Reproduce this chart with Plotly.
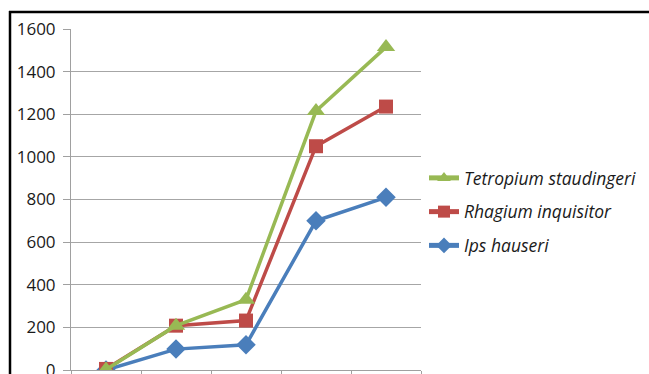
import plotly.graph_objects as go

categories = ["1", "2", "3", "4", "5"]
ips_hauseri = [0, 98, 118, 700, 810]
rhagium_inquisitor = [5, 208, 232, 1050, 1236]
tetropium_staudingeri = [2, 208, 330, 1215, 1515]
y_ticks = [0, 200, 400, 600, 800, 1000, 1200, 1400, 1600]

W, H = 649, 374
L, R, T, B = 71, 228, 29, 4
pw = W - L - R
ph = H - T - B

fig = go.Figure()
fig.add_trace(go.Scatter(x=categories, y=ips_hauseri, name="Ips hauseri", mode="lines+markers",
                         line=dict(color="#4A7EBB", width=3.5),
                         marker=dict(symbol="diamond", size=15, color="#4A7EBB"),
                         legendgroup="c", legendrank=3))
fig.add_trace(go.Scatter(x=categories, y=rhagium_inquisitor, name="Rhagium inquisitor", mode="lines+markers",
                         line=dict(color="#BE4B48", width=3.5),
                         marker=dict(symbol="square", size=14, color="#BE4B48"),
                         legendgroup="b", legendrank=2))
fig.add_trace(go.Scatter(x=categories, y=tetropium_staudingeri, name="Tetropium staudingeri", mode="lines+markers",
                         line=dict(color="#98B954", width=3.5),
                         marker=dict(symbol="triangle-up", size=16, color="#98B954"),
                         legendgroup="a", legendrank=1))

def px_x(p):
    return (p - L) / pw

def px_y(p):
    return (H - B - p) / ph

fig.update_layout(
    width=W, height=H,
    margin=dict(l=L, r=R, t=T, b=B, autoexpand=False),
    paper_bgcolor="white", plot_bgcolor="white",
    font=dict(family="Open Sans", size=17, color="#1a1a1a"),
    showlegend=True,
    legend=dict(x=px_x(424), y=px_y(160), xanchor="left", yanchor="top",
                traceorder="grouped", tracegroupgap=8, itemsizing="constant",
                font=dict(family="Open Sans", size=17.5, style="italic", color="#1a1a1a"),
                bgcolor="rgba(0,0,0,0)"),
    xaxis=dict(type="category", range=[-0.5, 4.5], showgrid=False, showticklabels=False,
               ticks="outside", tickson="boundaries", ticklen=5, tickcolor="#a0a0a0",
               showline=True, linecolor="#a0a0a0", linewidth=1, zeroline=False, fixedrange=True,
               automargin=False),
    yaxis=dict(range=[0, 1600], tickvals=y_ticks, showgrid=True, gridcolor="#a6a6a6", gridwidth=1,
               ticks="outside", ticklen=7, tickcolor="#a0a0a0", showline=True, linecolor="#a0a0a0",
               linewidth=1, zeroline=False, ticklabelstandoff=4, ticklabeloverflow="allow",
               fixedrange=True, automargin=False),
    shapes=[
        dict(type="line", xref="paper", yref="paper", x0=px_x(9), x1=px_x(W + 5), y0=px_y(12), y1=px_y(12),
             line=dict(color="black", width=2.5)),
        dict(type="line", xref="paper", yref="paper", x0=px_x(10), x1=px_x(10), y0=px_y(11), y1=px_y(H + 5),
             line=dict(color="black", width=2.5)),
    ],
)

fig.write_html("out.html")
